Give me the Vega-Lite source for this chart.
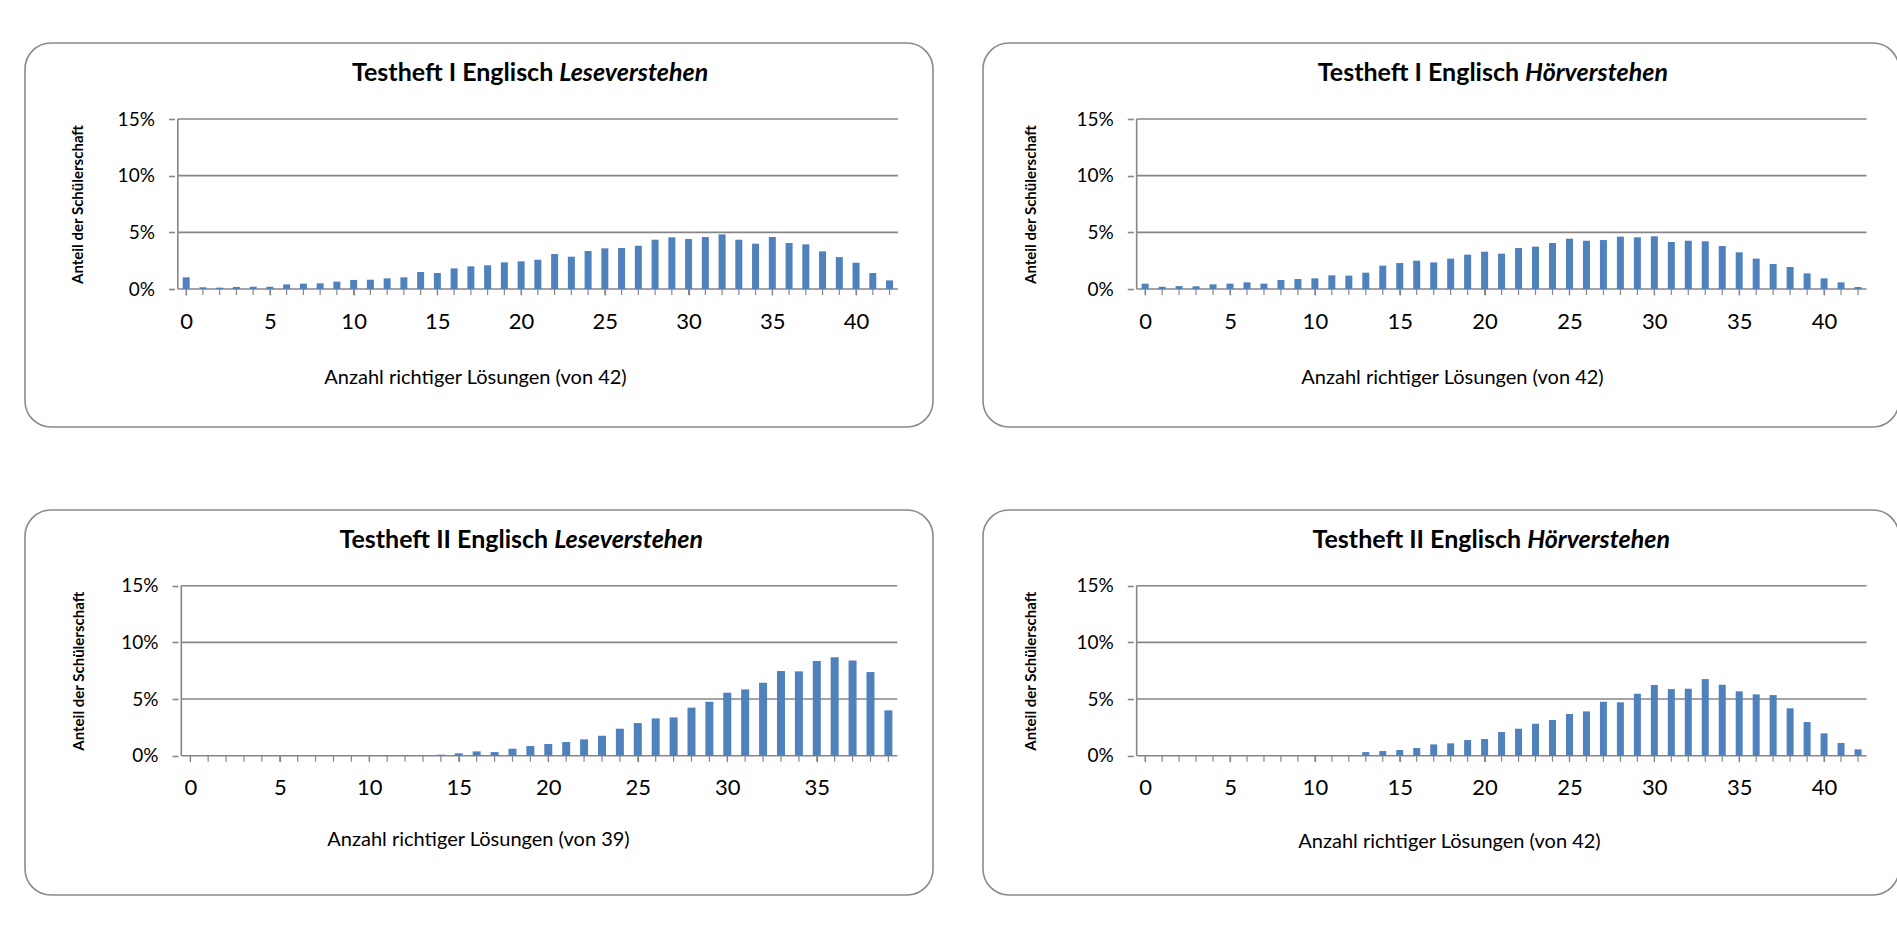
{
  "$schema": "https://vega.github.io/schema/vega-lite/v6.json",
  "padding": {"left": 24, "top": 42, "right": 0, "bottom": 0},
  "background": "white",
  "config": {
    "font": "Lato",
    "view": {"stroke": "#8a8a8a", "strokeWidth": 1.6, "cornerRadius": 26, "fill": "white"},
    "axis": {"labelColor": "#000000", "titleColor": "#000000", "labelFont": "Lato", "titleFont": "Lato", "labelOverlap": false, "labelFlush": false, "domain": false, "grid": false, "tickColor": "#868686"}
  },
  "datasets": {
    "grid": [{"g": 0}, {"g": 5}, {"g": 10}, {"g": 15}],
    "tl": [{"k":0,"p":1.03},{"k":1,"p":0.15},{"k":2,"p":0.12},{"k":3,"p":0.18},{"k":4,"p":0.2},{"k":5,"p":0.2},{"k":6,"p":0.41},{"k":7,"p":0.47},{"k":8,"p":0.5},{"k":9,"p":0.65},{"k":10,"p":0.8},{"k":11,"p":0.82},{"k":12,"p":0.94},{"k":13,"p":1.03},{"k":14,"p":1.5},{"k":15,"p":1.41},{"k":16,"p":1.82},{"k":17,"p":2.0},{"k":18,"p":2.09},{"k":19,"p":2.35},{"k":20,"p":2.44},{"k":21,"p":2.59},{"k":22,"p":3.09},{"k":23,"p":2.85},{"k":24,"p":3.35},{"k":25,"p":3.59},{"k":26,"p":3.62},{"k":27,"p":3.82},{"k":28,"p":4.35},{"k":29,"p":4.56},{"k":30,"p":4.41},{"k":31,"p":4.59},{"k":32,"p":4.82},{"k":33,"p":4.35},{"k":34,"p":4.0},{"k":35,"p":4.59},{"k":36,"p":4.06},{"k":37,"p":3.94},{"k":38,"p":3.32},{"k":39,"p":2.82},{"k":40,"p":2.32},{"k":41,"p":1.41},{"k":42,"p":0.76}],
    "tr": [{"k":0,"p":0.47},{"k":1,"p":0.2},{"k":2,"p":0.26},{"k":3,"p":0.24},{"k":4,"p":0.41},{"k":5,"p":0.47},{"k":6,"p":0.59},{"k":7,"p":0.47},{"k":8,"p":0.79},{"k":9,"p":0.88},{"k":10,"p":0.94},{"k":11,"p":1.21},{"k":12,"p":1.18},{"k":13,"p":1.44},{"k":14,"p":2.06},{"k":15,"p":2.29},{"k":16,"p":2.5},{"k":17,"p":2.35},{"k":18,"p":2.68},{"k":19,"p":3.03},{"k":20,"p":3.29},{"k":21,"p":3.12},{"k":22,"p":3.62},{"k":23,"p":3.74},{"k":24,"p":4.06},{"k":25,"p":4.44},{"k":26,"p":4.26},{"k":27,"p":4.32},{"k":28,"p":4.62},{"k":29,"p":4.56},{"k":30,"p":4.65},{"k":31,"p":4.15},{"k":32,"p":4.26},{"k":33,"p":4.21},{"k":34,"p":3.79},{"k":35,"p":3.24},{"k":36,"p":2.68},{"k":37,"p":2.21},{"k":38,"p":1.94},{"k":39,"p":1.38},{"k":40,"p":0.94},{"k":41,"p":0.59},{"k":42,"p":0.18}],
    "bl": [{"k":0,"p":0},{"k":1,"p":0},{"k":2,"p":0},{"k":3,"p":0},{"k":4,"p":0},{"k":5,"p":0},{"k":6,"p":0},{"k":7,"p":0},{"k":8,"p":0},{"k":9,"p":0},{"k":10,"p":0},{"k":11,"p":0.06},{"k":12,"p":0.06},{"k":13,"p":0.06},{"k":14,"p":0.09},{"k":15,"p":0.21},{"k":16,"p":0.38},{"k":17,"p":0.32},{"k":18,"p":0.62},{"k":19,"p":0.85},{"k":20,"p":1.03},{"k":21,"p":1.21},{"k":22,"p":1.44},{"k":23,"p":1.76},{"k":24,"p":2.38},{"k":25,"p":2.88},{"k":26,"p":3.29},{"k":27,"p":3.38},{"k":28,"p":4.24},{"k":29,"p":4.76},{"k":30,"p":5.56},{"k":31,"p":5.85},{"k":32,"p":6.44},{"k":33,"p":7.47},{"k":34,"p":7.44},{"k":35,"p":8.35},{"k":36,"p":8.68},{"k":37,"p":8.41},{"k":38,"p":7.38},{"k":39,"p":4.0}],
    "br": [{"k":0,"p":0},{"k":1,"p":0},{"k":2,"p":0},{"k":3,"p":0},{"k":4,"p":0},{"k":5,"p":0},{"k":6,"p":0},{"k":7,"p":0},{"k":8,"p":0},{"k":9,"p":0},{"k":10,"p":0.06},{"k":11,"p":0.06},{"k":12,"p":0.06},{"k":13,"p":0.32},{"k":14,"p":0.41},{"k":15,"p":0.5},{"k":16,"p":0.68},{"k":17,"p":1.0},{"k":18,"p":1.09},{"k":19,"p":1.38},{"k":20,"p":1.47},{"k":21,"p":2.09},{"k":22,"p":2.38},{"k":23,"p":2.82},{"k":24,"p":3.15},{"k":25,"p":3.68},{"k":26,"p":3.91},{"k":27,"p":4.76},{"k":28,"p":4.71},{"k":29,"p":5.47},{"k":30,"p":6.24},{"k":31,"p":5.88},{"k":32,"p":5.91},{"k":33,"p":6.76},{"k":34,"p":6.26},{"k":35,"p":5.68},{"k":36,"p":5.41},{"k":37,"p":5.35},{"k":38,"p":4.18},{"k":39,"p":2.97},{"k":40,"p":1.97},{"k":41,"p":1.12},{"k":42,"p":0.56}]
  },
  "vconcat": [
    {
      "hconcat": [
        {
          "width": 908, "height": 384,
          "layer": [
            {"data": {"name": "grid"}, "mark": {"type": "rule", "color": "#868686", "strokeWidth": 1.6},
             "encoding": {"y": {"field": "g", "type": "quantitative", "title": "Anteil der Schülerschaft"}, "x": {"datum": -0.5}, "x2": {"datum": 42.5}}},
            {"data": {"values": [{}]}, "mark": {"type": "rule", "color": "#868686", "strokeWidth": 1.6},
             "encoding": {"x": {"datum": -0.5}, "y": {"datum": 0}, "y2": {"datum": 15}}},
            {"data": {"name": "tl"}, "mark": {"type": "rule", "color": "#868686", "strokeWidth": 1.2},
             "encoding": {"x": {"field": "k", "type": "quantitative", "title": "Anzahl richtiger Lösungen (von  42)"}, "y": {"datum": 0}, "y2": {"datum": -0.53}}},
            {"data": {"name": "tl"}, "mark": {"type": "bar", "width": 7, "color": "#4F81BD"},
             "encoding": {
               "x": {"field": "k", "type": "quantitative", "scale": {"domain": [-9.325, 44.296], "nice": false, "zero": false},
                     "axis": {"values": [0,5,10,15,20,25,30,35,40], "labelOverlap": false, "labelFlush": false, "tickSize": 6, "tickWidth": 1.2, "labelFontSize": 22, "labelPadding": 16, "offset": -138,
                              "title": "Anzahl richtiger Lösungen (von  42)", "titleFontSize": 20, "titleFontWeight": "normal", "titleX": 450, "titleY": 94, "titleBaseline": "alphabetic", "titleAlign": "center"}},
               "y": {"field": "p", "type": "quantitative", "scale": {"domain": [-12.176, 21.706], "nice": false, "zero": false},
                     "axis": {"values": [0,5,10,15], "labelExpr": "datum.value + '%'", "labelOverlap": false, "labelFlush": false, "tickSize": 6, "tickWidth": 1.6, "labelFontSize": 19, "labelPadding": 14, "offset": -149.4,
                              "title": "Anteil der Schülerschaft", "titleFontSize": 15, "titleFontWeight": "bold", "titleX": -91.4, "titleY": 161, "titleAngle": 270, "titleBaseline": "alphabetic", "titleAlign": "center"}},
               "y2": {"datum": 0}
             }},
            {"data": {"values": [{}]}, "mark": {"type": "text", "text": "Testheft I Englisch", "align": "right", "baseline": "alphabetic", "fontSize": 25, "fontWeight": "bold", "dx": -3},
             "encoding": {"x": {"datum": 22.1}, "y": {"datum": 18.35}}},
            {"data": {"values": [{}]}, "mark": {"type": "text", "text": "Leseverstehen", "align": "left", "baseline": "alphabetic", "fontSize": 25, "fontWeight": "bold", "fontStyle": "italic", "dx": 3},
             "encoding": {"x": {"datum": 22.1}, "y": {"datum": 18.35}}}
          ]
        },
        {
          "width": 916, "height": 384,
          "layer": [
            {"data": {"name": "grid"}, "mark": {"type": "rule", "color": "#868686", "strokeWidth": 1.6},
             "encoding": {"y": {"field": "g", "type": "quantitative", "title": "Anteil der Schülerschaft"}, "x": {"datum": -0.5}, "x2": {"datum": 42.5}}},
            {"data": {"values": [{}]}, "mark": {"type": "rule", "color": "#868686", "strokeWidth": 1.6},
             "encoding": {"x": {"datum": -0.5}, "y": {"datum": 0}, "y2": {"datum": 15}}},
            {"data": {"name": "tr"}, "mark": {"type": "rule", "color": "#868686", "strokeWidth": 1.2},
             "encoding": {"x": {"field": "k", "type": "quantitative", "title": "Anzahl richtiger Lösungen (von  42)"}, "y": {"datum": 0}, "y2": {"datum": -0.53}}},
            {"data": {"name": "tr"}, "mark": {"type": "bar", "width": 7, "color": "#4F81BD"},
             "encoding": {
               "x": {"field": "k", "type": "quantitative", "scale": {"domain": [-9.259, 44.12], "nice": false, "zero": false},
                     "axis": {"values": [0,5,10,15,20,25,30,35,40], "labelOverlap": false, "labelFlush": false, "tickSize": 6, "tickWidth": 1.2, "labelFontSize": 22, "labelPadding": 16, "offset": -138,
                              "title": "Anzahl richtiger Lösungen (von  42)", "titleFontSize": 20, "titleFontWeight": "normal", "titleX": 469, "titleY": 94, "titleBaseline": "alphabetic", "titleAlign": "center"}},
               "y": {"field": "p", "type": "quantitative", "scale": {"domain": [-12.176, 21.706], "nice": false, "zero": false},
                     "axis": {"values": [0,5,10,15], "labelExpr": "datum.value + '%'", "labelOverlap": false, "labelFlush": false, "tickSize": 6, "tickWidth": 1.6, "labelFontSize": 19, "labelPadding": 14, "offset": -150.3,
                              "title": "Anteil der Schülerschaft", "titleFontSize": 15, "titleFontWeight": "bold", "titleX": -98, "titleY": 161, "titleAngle": 270, "titleBaseline": "alphabetic", "titleAlign": "center"}},
               "y2": {"datum": 0}
             }},
            {"data": {"values": [{}]}, "mark": {"type": "text", "text": "Testheft I Englisch", "align": "right", "baseline": "alphabetic", "fontSize": 25, "fontWeight": "bold", "dx": -3},
             "encoding": {"x": {"datum": 22.21}, "y": {"datum": 18.35}}},
            {"data": {"values": [{}]}, "mark": {"type": "text", "text": "Hörverstehen", "align": "left", "baseline": "alphabetic", "fontSize": 25, "fontWeight": "bold", "fontStyle": "italic", "dx": 3},
             "encoding": {"x": {"datum": 22.21}, "y": {"datum": 18.35}}}
          ]
        }
      ],
      "spacing": 48
    },
    {
      "hconcat": [
        {
          "width": 908, "height": 385,
          "layer": [
            {"data": {"name": "grid"}, "mark": {"type": "rule", "color": "#868686", "strokeWidth": 1.6},
             "encoding": {"y": {"field": "g", "type": "quantitative", "title": "Anteil der Schülerschaft"}, "x": {"datum": -0.5}, "x2": {"datum": 39.5}}},
            {"data": {"values": [{}]}, "mark": {"type": "rule", "color": "#868686", "strokeWidth": 1.6},
             "encoding": {"x": {"datum": -0.5}, "y": {"datum": 0}, "y2": {"datum": 15}}},
            {"data": {"name": "bl"}, "mark": {"type": "rule", "color": "#868686", "strokeWidth": 1.2},
             "encoding": {"x": {"field": "k", "type": "quantitative", "title": "Anzahl richtiger Lösungen (von 39)"}, "y": {"datum": 0}, "y2": {"datum": -0.53}}},
            {"data": {"name": "bl"}, "mark": {"type": "bar", "width": 8, "color": "#4F81BD"},
             "encoding": {
               "x": {"field": "k", "type": "quantitative", "scale": {"domain": [-8.953, 41.213], "nice": false, "zero": false},
                     "axis": {"values": [0,5,10,15,20,25,30,35], "labelOverlap": false, "labelFlush": false, "tickSize": 6, "tickWidth": 1.2, "labelFontSize": 22, "labelPadding": 16, "offset": -139.3,
                              "title": "Anzahl richtiger Lösungen (von 39)", "titleFontSize": 20, "titleFontWeight": "normal", "titleX": 453, "titleY": 90, "titleBaseline": "alphabetic", "titleAlign": "center"}},
               "y": {"field": "p", "type": "quantitative", "scale": {"domain": [-12.291, 21.68], "nice": false, "zero": false},
                     "axis": {"values": [0,5,10,15], "labelExpr": "datum.value + '%'", "labelOverlap": false, "labelFlush": false, "tickSize": 6, "tickWidth": 1.6, "labelFontSize": 19, "labelPadding": 14, "offset": -153,
                              "title": "Anteil der Schülerschaft", "titleFontSize": 15, "titleFontWeight": "bold", "titleX": -95, "titleY": 160.7, "titleAngle": 270, "titleBaseline": "alphabetic", "titleAlign": "center"}},
               "y2": {"datum": 0}
             }},
            {"data": {"values": [{}]}, "mark": {"type": "text", "text": "Testheft II Englisch", "align": "right", "baseline": "alphabetic", "fontSize": 25, "fontWeight": "bold", "dx": -3},
             "encoding": {"x": {"datum": 20.16}, "y": {"datum": 18.33}}},
            {"data": {"values": [{}]}, "mark": {"type": "text", "text": "Leseverstehen", "align": "left", "baseline": "alphabetic", "fontSize": 25, "fontWeight": "bold", "fontStyle": "italic", "dx": 3},
             "encoding": {"x": {"datum": 20.16}, "y": {"datum": 18.33}}}
          ]
        },
        {
          "width": 916, "height": 385,
          "layer": [
            {"data": {"name": "grid"}, "mark": {"type": "rule", "color": "#868686", "strokeWidth": 1.6},
             "encoding": {"y": {"field": "g", "type": "quantitative", "title": "Anteil der Schülerschaft"}, "x": {"datum": -0.5}, "x2": {"datum": 42.5}}},
            {"data": {"values": [{}]}, "mark": {"type": "rule", "color": "#868686", "strokeWidth": 1.6},
             "encoding": {"x": {"datum": -0.5}, "y": {"datum": 0}, "y2": {"datum": 15}}},
            {"data": {"name": "br"}, "mark": {"type": "rule", "color": "#868686", "strokeWidth": 1.2},
             "encoding": {"x": {"field": "k", "type": "quantitative", "title": "Anzahl richtiger Lösungen (von  42)"}, "y": {"datum": 0}, "y2": {"datum": -0.53}}},
            {"data": {"name": "br"}, "mark": {"type": "bar", "width": 7, "color": "#4F81BD"},
             "encoding": {
               "x": {"field": "k", "type": "quantitative", "scale": {"domain": [-9.259, 44.12], "nice": false, "zero": false},
                     "axis": {"values": [0,5,10,15,20,25,30,35,40], "labelOverlap": false, "labelFlush": false, "tickSize": 6, "tickWidth": 1.2, "labelFontSize": 22, "labelPadding": 16, "offset": -139.3,
                              "title": "Anzahl richtiger Lösungen (von  42)", "titleFontSize": 20, "titleFontWeight": "normal", "titleX": 466, "titleY": 92, "titleBaseline": "alphabetic", "titleAlign": "center"}},
               "y": {"field": "p", "type": "quantitative", "scale": {"domain": [-12.291, 21.68], "nice": false, "zero": false},
                     "axis": {"values": [0,5,10,15], "labelExpr": "datum.value + '%'", "labelOverlap": false, "labelFlush": false, "tickSize": 6, "tickWidth": 1.6, "labelFontSize": 19, "labelPadding": 14, "offset": -150.3,
                              "title": "Anteil der Schülerschaft", "titleFontSize": 15, "titleFontWeight": "bold", "titleX": -98, "titleY": 160.7, "titleAngle": 270, "titleBaseline": "alphabetic", "titleAlign": "center"}},
               "y2": {"datum": 0}
             }},
            {"data": {"values": [{}]}, "mark": {"type": "text", "text": "Testheft II Englisch", "align": "right", "baseline": "alphabetic", "fontSize": 25, "fontWeight": "bold", "dx": -3},
             "encoding": {"x": {"datum": 22.33}, "y": {"datum": 18.33}}},
            {"data": {"values": [{}]}, "mark": {"type": "text", "text": "Hörverstehen", "align": "left", "baseline": "alphabetic", "fontSize": 25, "fontWeight": "bold", "fontStyle": "italic", "dx": 3},
             "encoding": {"x": {"datum": 22.33}, "y": {"datum": 18.33}}}
          ]
        }
      ],
      "spacing": 48
    }
  ],
  "spacing": 81
}
